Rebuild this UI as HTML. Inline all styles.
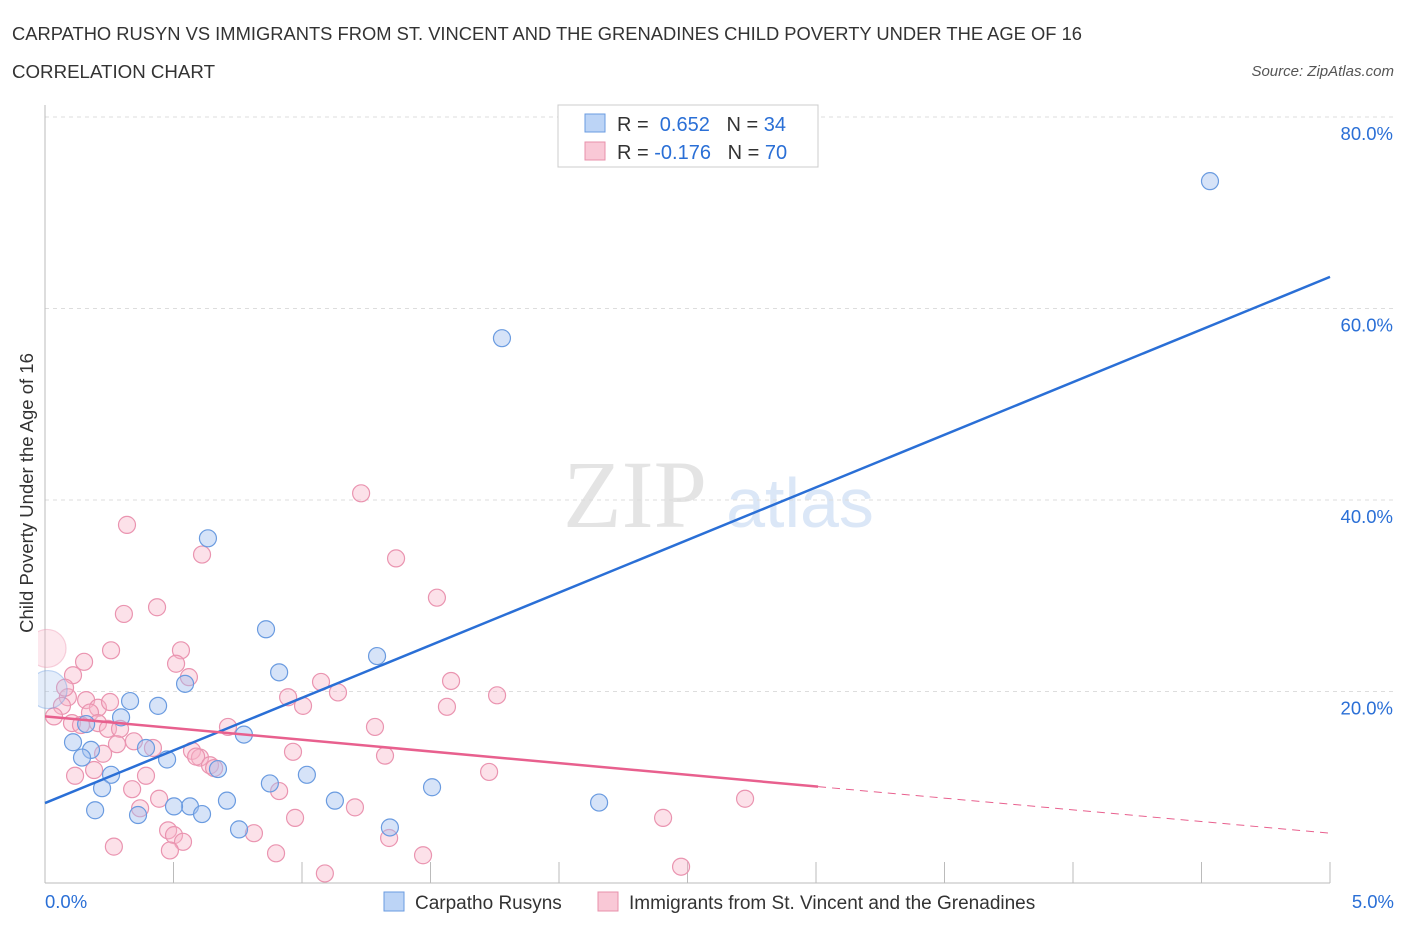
<!DOCTYPE html>
<html><head><meta charset="utf-8"><style>
body{margin:0;background:#fff;font-family:"Liberation Sans",sans-serif;}
svg text{font-family:"Liberation Sans",sans-serif;}
</style></head><body>
<svg id="chart" width="1406" height="930">
<defs><clipPath id="plotclip"><rect x="38" y="100" width="1370" height="790"/></clipPath></defs>
<text x="12" y="40" font-size="18" fill="#333" textLength="1070" lengthAdjust="spacingAndGlyphs">CARPATHO RUSYN VS IMMIGRANTS FROM ST. VINCENT AND THE GRENADINES CHILD POVERTY UNDER THE AGE OF 16</text>
<text x="12" y="78" font-size="18" fill="#333" textLength="203" lengthAdjust="spacingAndGlyphs">CORRELATION CHART</text>
<text x="1394" y="76" font-size="15" fill="#555" font-style="italic" text-anchor="end">Source: ZipAtlas.com</text>
<text x="635" y="527" font-size="96" fill="#e4e4e4" text-anchor="middle" style="font-family:'Liberation Serif',serif">ZIP</text>
<text x="800" y="527" font-size="70" fill="#dbe7f7" text-anchor="middle">atlas</text>
<g id="grid"></g><g id="pts" clip-path="url(#plotclip)"></g><g id="lines"></g>
<text x="33" y="493" font-size="18.5" fill="#333" text-anchor="middle" transform="rotate(-90 33 493)">Child Poverty Under the Age of 16</text>
<g>
<rect x="558" y="105" width="260" height="62" fill="#fff" stroke="#ccc"/>
<rect x="585" y="114" width="20" height="18" fill="#bcd4f6" stroke="#6a9be0"/>
<rect x="585" y="142" width="20" height="18" fill="#f9c8d6" stroke="#e890ab"/>
<text x="617" y="131" font-size="20" fill="#333">R = <tspan fill="#2a6fd6">&#160;0.652</tspan><tspan fill="#333">&#160;&#160;&#160;N = </tspan><tspan fill="#2a6fd6">34</tspan></text>
<text x="617" y="159" font-size="20" fill="#333">R = <tspan fill="#2a6fd6">-0.176</tspan><tspan fill="#333">&#160;&#160;&#160;N = </tspan><tspan fill="#2a6fd6">70</tspan></text>
</g>
<g>
<rect x="384" y="892" width="20" height="19" fill="#bcd4f6" stroke="#6a9be0"/>
<text x="415" y="909" font-size="19" fill="#333">Carpatho Rusyns</text>
<rect x="598" y="892" width="20" height="19" fill="#f9c8d6" stroke="#e890ab"/>
<text x="629" y="909" font-size="19" fill="#333">Immigrants from St. Vincent and the Grenadines</text>
</g>
<text x="45" y="908" font-size="18.5" fill="#2a6fd6">0.0%</text>
<text x="1394" y="908" font-size="18.5" fill="#2a6fd6" text-anchor="end">5.0%</text>
</svg>
<script>
const yTicks=[20,40,60,80];
const blueX=[4.533,1.778,0.634,0.860,1.292,0.911,0.545,0.331,0.440,0.296,0.160,0.774,0.393,0.109,0.179,0.144,0.475,0.673,0.257,1.019,0.875,1.506,0.222,0.708,1.128,0.564,0.502,2.156,0.195,0.611,0.362,0.755,1.342,0.012];
const blueY=[73.3,56.9,36.0,26.5,23.7,22.0,20.8,19.0,18.5,17.3,16.6,15.5,14.1,14.7,13.9,13.1,12.9,11.9,11.3,11.3,10.4,10.0,9.9,8.6,8.6,8.0,8.0,8.4,7.6,7.2,7.1,5.6,5.8,20.2];
const pinkX=[1.230,0.319,0.611,1.366,1.525,0.436,0.307,0.257,0.529,0.008,0.152,0.510,0.109,0.560,1.580,1.074,0.946,1.759,1.140,0.089,0.160,0.066,0.206,1.564,1.004,0.035,0.175,0.105,0.140,0.206,0.712,1.284,0.245,0.292,0.346,0.280,0.420,0.572,0.226,0.965,0.603,0.588,0.642,1.323,0.658,0.191,1.728,0.117,0.393,0.339,0.911,2.724,0.444,0.370,1.206,0.973,2.405,0.479,0.502,0.813,1.339,0.537,0.268,0.486,0.899,1.471,2.475,1.089,0.253,0.078];
const pinkY=[40.7,37.4,34.3,33.9,29.8,28.8,28.1,24.3,24.3,24.5,23.1,22.9,21.7,21.5,21.1,21.0,19.4,19.6,19.9,19.4,19.1,18.5,18.3,18.4,18.5,17.4,17.8,16.7,16.5,16.7,16.3,16.3,16.1,16.1,14.8,14.5,14.1,13.8,13.5,13.7,13.1,13.2,12.3,13.3,12.0,11.8,11.6,11.2,11.2,9.8,9.6,8.8,8.8,7.8,7.9,6.8,6.8,5.5,5.0,5.2,4.7,4.3,3.8,3.4,3.1,2.9,1.7,1.0,18.9,20.4];
const blueTrend=[8.35,63.3];
const pinkTrend=[17.4,5.2];
const pinkSolidEnd=3.008;
const NS='http://www.w3.org/2000/svg';
const X=v=>45+v/5*1285, Y=v=>883-v*9.575;
function mk(t,a,p){const e=document.createElementNS(NS,t);for(const k in a)e.setAttribute(k,a[k]);p.appendChild(e);return e;}
const g=document.getElementById('grid');
yTicks.forEach(t=>{
 const l=mk('line',{x1:45,x2:1395,y1:Y(t),y2:Y(t),stroke:'#ddd','stroke-dasharray':'4,4'},g);
 
 
 const tx=mk('text',{x:1393,y:Y(t)+23,'font-size':18.5,fill:'#2a6fd6','text-anchor':'end'},g);
 tx.textContent=t.toFixed(1)+'%';
 
 
});
const ax=mk('line',{x1:45,x2:45,y1:105,y2:883,stroke:'#bbb'},g);


const bx=mk('line',{x1:45,x2:1330,y1:883,y2:883,stroke:'#bbb'},g);


for(let i=1;i<=10;i++){const t=mk('line',{x1:X(i*0.5),x2:X(i*0.5),y1:862,y2:883,stroke:'#bbb'},g);
 
 }
const p=document.getElementById('pts');
function draw(xs,ys,fill,bigFill,stroke,name){xs.forEach((x,i)=>{
 const big=x<0.02;
 const c=mk('circle',{cx:X(x),cy:Y(ys[i]),r:big?19:8.5,fill:big?bigFill:fill,stroke:stroke,'stroke-width':1.2,'stroke-opacity':big?0.4:1},p);
 
 });}
draw(pinkX,pinkY,'rgba(248,180,200,0.4)','rgba(248,180,200,0.3)','#ea94b0','pink-point');
draw(blueX,blueY,'rgba(164,194,240,0.45)','rgba(164,194,240,0.3)','#6a9be0','blue-point');
const L=document.getElementById('lines');
const b=mk('line',{x1:X(0),y1:Y(blueTrend[0]),x2:X(5),y2:Y(blueTrend[1]),stroke:'#2a6fd6','stroke-width':2.5},L);


const pv=x=>pinkTrend[0]+(pinkTrend[1]-pinkTrend[0])*x/5;
const ps=mk('line',{x1:X(0),y1:Y(pv(0)),x2:X(pinkSolidEnd),y2:Y(pv(pinkSolidEnd)),stroke:'#e8608e','stroke-width':2.5},L);


const pd=mk('line',{x1:X(pinkSolidEnd),y1:Y(pv(pinkSolidEnd)),x2:X(5),y2:Y(pv(5)),stroke:'#e8608e','stroke-width':1,'stroke-dasharray':'8,6'},L);


</script>
</body></html>
